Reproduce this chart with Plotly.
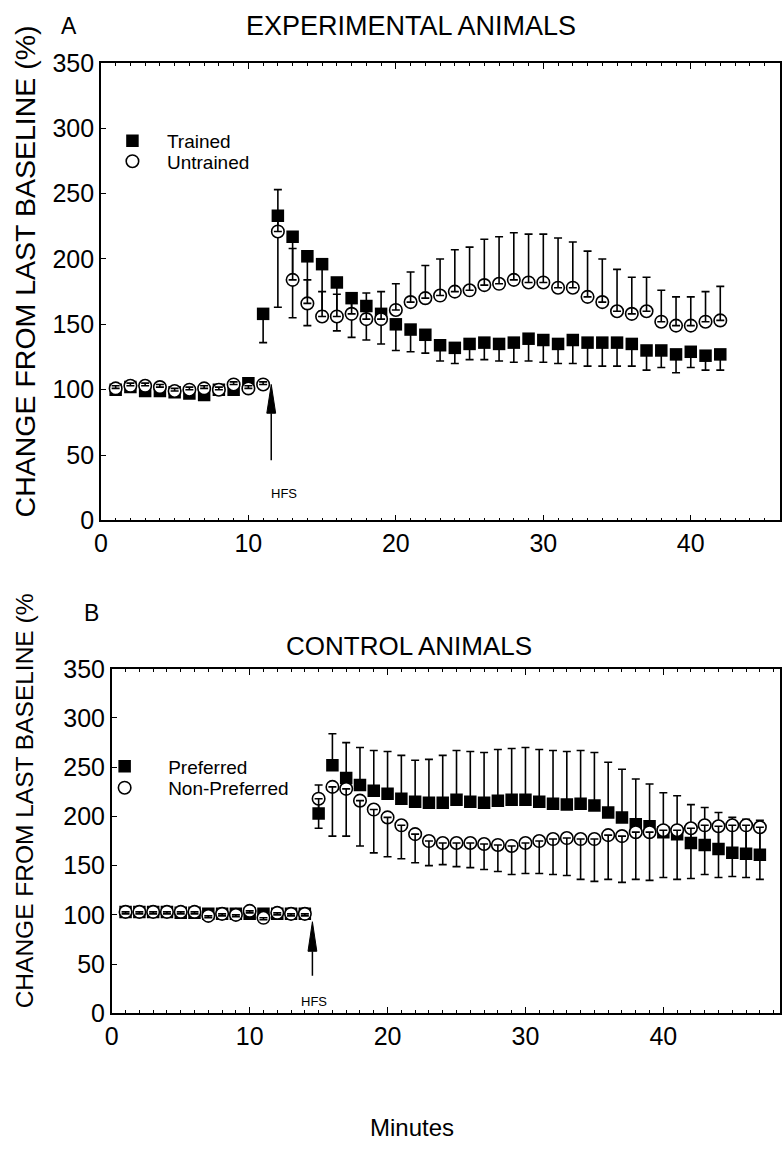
import plotly.graph_objects as go

# ---------------- data ----------------
minutes_a = list(range(1, 43))
trained = [100, 102, 99, 99, 98, 97, 96, 100, 100, 105,
           158, 233, 217, 202, 196, 182, 170, 164, 158, 150,
           146, 142, 134, 132, 135, 136, 135, 136, 139, 138,
           135, 138, 136, 136, 136, 135, 130, 130, 127, 129,
           126, 127]
trained_err = [3, 3, 3, 3, 3, 3, 3, 3, 3, 3,
               22, 70, 62, 53, 36, 37, 30, 26, 23, 20,
               17, 14, 12, 12, 12, 13, 13, 15, 17, 17,
               15, 18, 18, 18, 18, 17, 15, 13, 14, 12,
               11, 12]
untrained = [101, 103, 103, 102, 99, 100, 101, 100, 104, 101,
             104, 221, 184, 166, 156, 156, 158, 154, 154, 161,
             167, 170, 172, 175, 176, 180, 181, 184, 182, 182,
             178, 178, 171, 167, 160, 158, 160, 152, 149, 149,
             152, 153]
untrained_err = [2, 2, 2, 2, 2, 2, 2, 2, 2, 2,
                 2, 32, 24, 18, 19, 17, 12, 20, 21, 20,
                 23, 25, 28, 32, 33, 35, 36, 36, 37, 37,
                 38, 35, 35, 33, 32, 28, 26, 24, 22, 22,
                 23, 26]

minutes_b = list(range(1, 48))
preferred = [103, 103, 103, 103, 102, 102, 101, 101, 101, 101, 101, 101, 101, 101,
             203, 252, 239, 232, 226, 223, 218, 215,
             214, 214, 217, 215, 214, 216, 217, 217, 215, 213,
             212, 213, 211, 204, 199, 192, 190, 184, 182, 173,
             171, 167, 163, 162, 161]
preferred_err = [2, 2, 2, 2, 2, 2, 2, 2, 2, 2, 2, 2, 2, 2,
                 29, 32, 36, 38, 41, 43, 44, 42,
                 44, 48, 50, 51, 51, 52, 52, 53, 53, 54,
                 54, 54, 54, 51, 49, 46, 43, 40, 39, 39,
                 38, 37, 36, 35, 35]
nonpref = [103, 103, 103, 103, 103, 103, 99, 101, 100, 104, 97, 102, 101, 101,
           218, 230, 228, 216, 207, 199, 191, 182,
           175, 173, 173, 173, 172, 171, 170, 173, 175, 177,
           178, 177, 177, 181, 180, 184, 184, 186, 186, 188,
           191, 190, 191, 191, 189]
nonpref_err = [2, 2, 2, 2, 2, 2, 2, 2, 2, 2, 2, 2, 2, 2,
               30, 50, 48, 46, 44, 40, 34, 29,
               25, 22, 24, 25, 26, 27, 29, 31, 33, 36,
               38, 41, 43, 45, 47, 48, 49, 48, 50, 51,
               50, 52, 52, 53, 53]

x_ticks = [0, 10, 20, 30, 40]
y_ticks = [0, 50, 100, 150, 200, 250, 300, 350]

FONT = "Liberation Sans, Arial, sans-serif"
W, H = 782, 1159


def zeros(n):
    return [0] * n


fig = go.Figure()


def add_panel(xs, sq, sq_err, sq_dir, ci, ci_err, ci_dir, names, xa, ya, legs):
    ey = dict(type="data", symmetric=False, color="black", thickness=1.6, width=4)
    if sq_dir == "down":
        ey.update(array=zeros(len(sq)), arrayminus=sq_err)
    else:
        ey.update(array=sq_err, arrayminus=zeros(len(sq)))
    fig.add_trace(go.Scatter(x=xs, y=sq, mode="markers", name=names[0],
                             marker=dict(symbol="square", size=12.5, color="black"),
                             error_y=ey, xaxis=xa, yaxis=ya, legend=legs[0]))
    fig.add_trace(go.Scatter(x=xs, y=ci, mode="markers", name=names[1],
                             marker=dict(symbol="circle", size=12.5, color="white",
                                         line=dict(color="black", width=1.6)),
                             xaxis=xa, yaxis=ya, legend=legs[1]))
    ey2 = dict(type="data", symmetric=False, color="black", thickness=1.6, width=4)
    if ci_dir == "up":
        ey2.update(array=ci_err, arrayminus=zeros(len(ci)))
    else:
        ey2.update(array=zeros(len(ci)), arrayminus=ci_err)
    fig.add_trace(go.Scatter(x=xs, y=ci, mode="markers", showlegend=False,
                             marker=dict(size=1, color="rgba(0,0,0,0)"),
                             error_y=ey2, xaxis=xa, yaxis=ya, hoverinfo="skip"))


add_panel(minutes_a, trained, trained_err, "down", untrained, untrained_err, "up",
          ["Trained", "Untrained"], "x", "y", ["legend", "legend2"])
add_panel(minutes_b, preferred, preferred_err, "up", nonpref, nonpref_err, "down",
          ["Preferred", "Non-Preferred"], "x2", "y2", ["legend3", "legend4"])

# panel geometry (pixels)
a_left, a_top, a_bot = 95, 50, 519
b_left, b_top, b_bot = 106, 671, 1024


def px(xp):
    return xp / W


def py(yp):
    return 1 - yp / H


xcommon = dict(showline=True, linecolor="black", linewidth=1.6, mirror="allticks",
               ticks="inside", ticklen=6, tickcolor="black", tickwidth=1.2,
               tickvals=x_ticks, showgrid=False, zeroline=False,
               tickfont=dict(family=FONT, size=25, color="black"),
               minor=dict(dtick=1, ticks="inside", ticklen=3, tickcolor="black", tickwidth=1))
ycommon = dict(showline=True, linecolor="black", linewidth=1.6, mirror=True,
               ticks="inside", ticklen=5, tickcolor="black", tickwidth=1.2,
               tickvals=y_ticks, range=[0, 350], showgrid=False, zeroline=False,
               tickfont=dict(family=FONT, size=25, color="black"))


def leg(xl, yc):
    return dict(x=px(xl), y=py(yc), xanchor="left", yanchor="middle",
                bgcolor="rgba(0,0,0,0)", font=dict(family=FONT, size=19, color="black"),
                borderwidth=0)


la = leg(92, 130)
la["itemwidth"] = 59
la2 = leg(92, 151)
la2["itemwidth"] = 59
lb = leg(75, 771)
lb["itemwidth"] = 77
lb2 = leg(75, 793)
lb2["itemwidth"] = 77

fig.update_layout(
    width=W, height=H, margin=dict(l=0, r=0, t=0, b=0),
    paper_bgcolor="white", plot_bgcolor="white",
    font=dict(family=FONT, color="black"),
    xaxis=dict(xcommon, domain=[px(a_left), 1], range=[0, 46.05], anchor="y"),
    yaxis=dict(ycommon, domain=[py(a_bot), py(a_top)], anchor="x"),
    xaxis2=dict(xcommon, domain=[px(b_left), 1], range=[0, 48.46], anchor="y2"),
    yaxis2=dict(ycommon, domain=[py(b_bot), py(b_top)], anchor="x2"),
    legend=la, legend2=la2, legend3=lb, legend4=lb2,
)

ann = []
ann.append(dict(text="A", x=px(63), y=py(12), xref="paper", yref="paper", showarrow=False,
                font=dict(size=23), xanchor="center", yanchor="middle"))
ann.append(dict(text="EXPERIMENTAL ANIMALS", x=px(409), y=py(12), xref="paper", yref="paper",
                showarrow=False, font=dict(size=27), xanchor="center", yanchor="middle"))
ann.append(dict(text="B", x=px(85), y=py(614), xref="paper", yref="paper", showarrow=False,
                font=dict(size=23), xanchor="center", yanchor="middle"))
ann.append(dict(text="CONTROL ANIMALS", x=px(407), y=py(648), xref="paper", yref="paper",
                showarrow=False, font=dict(size=26), xanchor="center", yanchor="middle"))
ann.append(dict(text="CHANGE FROM LAST BASELINE (%)", x=px(18), y=py(264), xref="paper",
                yref="paper", showarrow=False, textangle=-90, font=dict(size=28.5),
                xanchor="center", yanchor="middle"))
ann.append(dict(text="CHANGE FROM LAST BASELINE (%", x=px(18), y=py(806), xref="paper",
                yref="paper", showarrow=False, textangle=-90, font=dict(size=24.5),
                xanchor="center", yanchor="middle"))
ann.append(dict(text="Minutes", x=px(410), y=py(1141), xref="paper", yref="paper",
                showarrow=False, font=dict(size=24), xanchor="center", yanchor="middle"))
ann.append(dict(text="HFS", x=12.4, y=21, xref="x", yref="y", showarrow=False,
                font=dict(size=13), xanchor="center", yanchor="middle"))
ann.append(dict(text="HFS", x=14.7, y=12, xref="x2", yref="y2", showarrow=False,
                font=dict(size=13), xanchor="center", yanchor="middle"))
fig.update_layout(annotations=ann)

# HFS arrows: shaft + filled head
hfs_a = dict(x=11.55, tip=104, base=82, tail=46, hw=0.3)
hfs_b = dict(x=14.55, tip=93, base=63, tail=38, hw=0.32)
for h, xr, yr in [(hfs_a, "x", "y"), (hfs_b, "x2", "y2")]:
    fig.add_shape(type="line", xref=xr, yref=yr, x0=h["x"], x1=h["x"], y0=h["tail"],
                  y1=h["base"], line=dict(color="black", width=1.5))
    fig.add_shape(type="path", xref=xr, yref=yr,
                  path=f"M {h['x']},{h['tip']} L {h['x'] - h['hw']},{h['base']} "
                       f"L {h['x'] + h['hw']},{h['base']} Z",
                  fillcolor="black", line=dict(color="black", width=1))

fig.write_html("out.html")
